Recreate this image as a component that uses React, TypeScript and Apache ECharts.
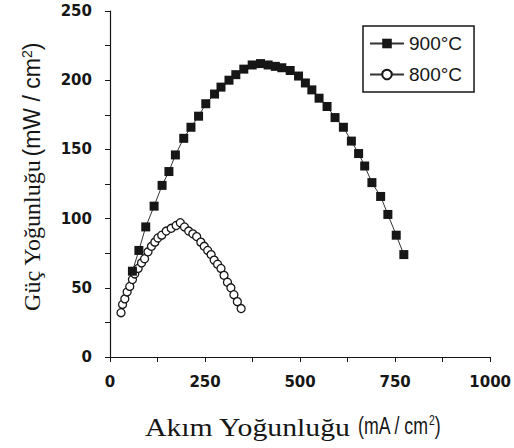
import React, { useEffect, useRef } from "react";
import * as echarts from "echarts";

const seriesNames = ["900°C", "800°C"];
const xTicks = [0, 250, 500, 750, 1000];
const yTicks = [0, 50, 100, 150, 200, 250];

const current900 = [59, 76, 94, 116, 137, 155, 172, 194, 213, 233, 252, 275, 292, 313, 331, 352, 374, 396, 416, 435, 452, 474, 496, 514, 531, 550, 571, 592, 614, 635, 654, 670, 689, 712, 731, 753, 773];
const power900 = [62, 77, 94, 109, 124, 134, 146, 158, 166, 174, 183, 190, 195, 200, 204, 208, 211, 212, 211, 210, 209, 207, 203, 198, 193, 187, 181, 173, 166, 156, 147, 138, 126, 116, 103, 88, 74];

const current800 = [29, 33, 39, 45, 52, 59, 65, 74, 83, 91, 100, 109, 118, 126, 136, 148, 161, 174, 185, 196, 207, 218, 228, 239, 248, 257, 266, 274, 283, 292, 300, 309, 318, 326, 335, 345];
const power800 = [32, 38, 42, 47, 51, 56, 60, 64, 68, 71, 76, 80, 83, 86, 88, 91, 93, 95, 97, 94, 91, 89, 87, 83, 80, 77, 74, 70, 67, 64, 59, 54, 50, 45, 40, 35];

const INK = "#161616";
const SANS = "'Liberation Sans', Arial, sans-serif";
const SERIF = "'Liberation Serif', 'Times New Roman', serif";

export default function App() {
  const ref = useRef<HTMLDivElement>(null);
  useEffect(() => {
    if (!ref.current) return;
    const chart = echarts.init(ref.current, null, { renderer: "svg" });
    const axisCommon = {
      type: "value" as const,
      axisLine: { show: true, lineStyle: { color: INK, width: 1.2 } },
      axisTick: { show: true, length: 5, inside: false, lineStyle: { color: INK, width: 1 } },
      minorTick: { show: true, splitNumber: 2, length: 5, lineStyle: { color: INK, width: 1 } },
      splitLine: { show: false },
      axisLabel: {
        color: INK,
        fontFamily: "'DejaVu Sans', sans-serif",
        fontWeight: "bold" as const,
        fontSize: 15,
        formatter: (v: number) => String(v),
      },
    };
    chart.setOption({
      animation: false,
      backgroundColor: "#ffffff",
      grid: { left: 110, right: 21, top: 11, bottom: 91, containLabel: false },
      xAxis: {
        ...axisCommon,
        min: xTicks[0],
        max: xTicks[xTicks.length - 1],
        interval: xTicks[1] - xTicks[0],
        axisLabel: { ...axisCommon.axisLabel, margin: 17 },
      },
      yAxis: {
        ...axisCommon,
        min: yTicks[0],
        max: yTicks[yTicks.length - 1],
        interval: yTicks[1] - yTicks[0],
        axisLabel: { ...axisCommon.axisLabel, margin: 18 },
      },
      legend: {
        data: seriesNames,
        orient: "vertical",
        left: 363,
        top: 26,
        itemWidth: 34,
        itemHeight: 12,
        itemGap: 12,
        padding: [8, 12, 8, 6],
        borderColor: INK,
        borderWidth: 1.5,
        backgroundColor: "#fff",
        textStyle: { fontFamily: SANS, fontSize: 19, color: INK },
      },
      graphic: [
        {
          type: "text",
          x: 32,
          y: 177,
          rotation: Math.PI / 2,
          style: {
            text: "{a|Güç Yoğunluğu} {b|(mW / cm}{s|2}{b|)}",
            align: "center",
            verticalAlign: "middle",
            fill: INK,
            rich: {
              a: { fontFamily: SERIF, fontSize: 24, fill: INK, color: INK },
              b: { fontFamily: SANS, fontSize: 23, fill: INK, color: INK },
              s: { fontFamily: SANS, fontSize: 14, fill: INK, color: INK, verticalAlign: "top" },
            },
          },
        },
        {
          type: "text",
          x: 145,
          y: 428,
          scaleX: 1.19,
          style: {
            text: "Akım Yoğunluğu",
            font: `25px ${SERIF}`,
            fill: INK,
            align: "left",
            verticalAlign: "middle",
          },
        },
        {
          type: "text",
          x: 358,
          y: 425,
          scaleX: 0.74,
          style: {
            text: "{b|(mA / cm}{s|2}{b|)}",
            align: "left",
            verticalAlign: "middle",
            fill: INK,
            rich: {
              b: { fontFamily: SANS, fontSize: 24, fill: INK, color: INK },
              s: { fontFamily: SANS, fontSize: 14, fill: INK, color: INK, verticalAlign: "top" },
            },
          },
        },
      ],
      series: [
        {
          name: seriesNames[1],
          type: "line",
          data: current800.map((c, i) => [c, power800[i]]),
          symbol: "circle",
          symbolSize: 8,
          showAllSymbol: true,
          itemStyle: { color: "#ffffff", borderColor: INK, borderWidth: 1.3 },
          lineStyle: { color: "#333", width: 1 },
          z: 2,
        },
        {
          name: seriesNames[0],
          type: "line",
          data: current900.map((c, i) => [c, power900[i]]),
          symbol: "rect",
          symbolSize: 9,
          showAllSymbol: true,
          itemStyle: { color: INK },
          lineStyle: { color: "#333", width: 1 },
          z: 3,
        },
      ],
    });
    return () => chart.dispose();
  }, []);
  return <div ref={ref} style={{ width: 514, height: 448, position: "absolute", left: 0, top: 0 }} />;
}
